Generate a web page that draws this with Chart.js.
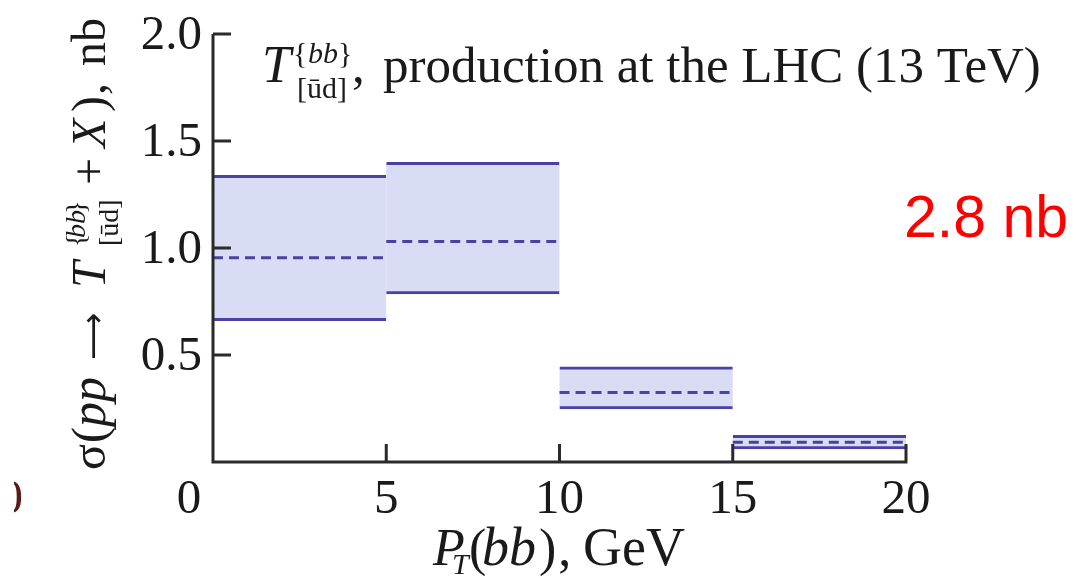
<!DOCTYPE html>
<html>
<head>
<meta charset="utf-8">
<script src="https://cdn.jsdelivr.net/npm/chart.js@4.4.1/dist/chart.umd.min.js"></script>
<style>
  html, body { margin: 0; padding: 0; background: #ffffff; }
  #wrap { width: 1077px; height: 578px; }
</style>
</head>
<body>
<div id="wrap"><canvas id="c" width="1077" height="578"></canvas></div>
<script>
// Cross-section bins in P_T(bb), GeV
const binEdges = [0, 5, 10, 15, 20];
// Central value (dashed) and lower/upper band edges, nb
const central = [0.955, 1.03, 0.325, 0.092];
const lower   = [0.66, 0.785, 0.248, 0.061];
const upper   = [1.34, 1.40, 0.445, 0.125];

// Axis ticks
const xTicks = [0, 5, 10, 15, 20];
const xTickLabels = ['0', '5', '10', '15', '20'];
const yTicks = [0.5, 1.0, 1.5, 2.0];
const yTickLabels = ['0.5', '1.0', '1.5', '2.0'];

const SERIF = "'Liberation Serif', 'Times New Roman', 'DejaVu Serif', serif";
const LINE = '#4a40a6';
const BAND = '#d9dcf5';
const INK = '#1a1a1a';
const AXIS = '#2a2a2a';

// Shaded band per bin as floating bars [lower, upper]
const bandData = upper.map((u, i) => ({ x: (binEdges[i] + binEdges[i + 1]) / 2, y: [lower[i], u] }));
// Dashed central step per bin, broken between bins
const centralData = [];
central.forEach((c, i) => {
  centralData.push({ x: binEdges[i], y: c });
  centralData.push({ x: binEdges[i + 1], y: c });
  centralData.push({ x: binEdges[i + 1], y: null });
});

function put(ctx, txt, x, y, size, italic, align, family) {
  ctx.font = (italic ? 'italic ' : '') + size + 'px ' + (family || SERIF);
  ctx.textAlign = align || 'left';
  ctx.fillText(txt, x, y);
  return ctx.measureText(txt).width;
}

// draw a glyph run scaled so that it spans the given width
function putFit(ctx, txt, x, y, width, family) {
  ctx.font = '100px ' + family;
  const w = ctx.measureText(txt).width || 100;
  const size = Math.max(8, Math.round(100 * width / w));
  return put(ctx, txt, x, y, size, false, 'left', family);
}

const decor = {
  id: 'decor',
  afterDatasetsDraw(chart) {
    const ctx = chart.ctx;
    const xs = chart.scales.x, ys = chart.scales.y;
    const x0 = xs.getPixelForValue(0), x1 = xs.getPixelForValue(20);
    const y0 = ys.getPixelForValue(0), y1 = ys.getPixelForValue(2);
    ctx.save();
    ctx.strokeStyle = AXIS;
    ctx.lineWidth = 3;
    ctx.lineCap = 'butt';
    ctx.beginPath();
    ctx.moveTo(x0, y1); ctx.lineTo(x0, y0 + 1.5);
    ctx.moveTo(x0 - 1.5, y0); ctx.lineTo(x1 + 1.5, y0);
    yTicks.forEach(v => {
      const p = ys.getPixelForValue(v);
      ctx.moveTo(x0, p); ctx.lineTo(x0 + 18, p);
    });
    xTicks.forEach(v => {
      if (v === 0) return;
      const p = xs.getPixelForValue(v);
      ctx.moveTo(p, y0); ctx.lineTo(p, y0 - 18);
    });
    ctx.stroke();
    ctx.restore();
  },
  afterDraw(chart) {
    const ctx = chart.ctx;
    const xs = chart.scales.x, ys = chart.scales.y;
    const x0 = xs.getPixelForValue(0);
    const y0 = ys.getPixelForValue(0);
    ctx.save();
    ctx.fillStyle = INK;
    ctx.textBaseline = 'alphabetic';

    // y tick labels
    yTicks.forEach((v, i) => {
      put(ctx, yTickLabels[i], x0 - 11, ys.getPixelForValue(v) + 15, 49, false, 'right');
    });
    // x tick labels (the origin label sits left of the vertical axis)
    xTicks.forEach((v, i) => {
      const px = xs.getPixelForValue(v) - (v === 0 ? 24 : 0);
      put(ctx, xTickLabels[i], px, y0 + 51, 49, false, 'center');
    });

    // heading
    put(ctx, 'T', 262, 82, 52, true);
    put(ctx, '{', 293, 63, 30, false);
    put(ctx, 'bb', 308, 63, 30, true);
    put(ctx, '}', 338, 63, 30, false);
    put(ctx, '[\u016Bd]', 297, 98, 30, false);
    put(ctx, ',', 352, 82, 51, false);
    put(ctx, 'production at the LHC (13 TeV)', 383, 82, 51, false);

    // x axis title
    put(ctx, 'P', 433, 565, 52, true);
    put(ctx, 'T', 452, 574, 30, true);
    put(ctx, '(', 469, 565, 52, false);
    let cx = 482;
    cx += put(ctx, 'bb', cx, 565, 54, true) + 3;
    cx += put(ctx, ')', cx, 565, 52, false);
    put(ctx, ',', cx + 2, 565, 52, false);
    put(ctx, 'GeV', 583, 565, 54, false);

    // y axis title, rotated
    ctx.save();
    ctx.translate(105, 470);
    ctx.rotate(-Math.PI / 2);
    put(ctx, '\u03C3', 0, 0, 48, false);
    put(ctx, '(', 27, 0, 48, false);
    put(ctx, 'pp', 43, 0, 50, true);
    putFit(ctx, '\u27F6', 110, -1, 47, "'DejaVu Sans', sans-serif");
    put(ctx, 'T', 182, 0, 48, true);
    put(ctx, '{', 223, -20, 28, false);
    put(ctx, 'bb', 232, -20, 28, true);
    put(ctx, '}', 256, -20, 28, false);
    put(ctx, '[\u016Bd]', 224, 13, 28, false);
    put(ctx, '+', 285, 0, 48, false);
    put(ctx, 'X', 322, 0, 48, true);
    put(ctx, ')', 358, 0, 48, false);
    put(ctx, ',', 375, 0, 48, false);
    put(ctx, 'nb', 404, 0, 48, false);
    ctx.restore();

    // partial digit cut by the left edge
    ctx.save();
    ctx.beginPath();
    ctx.rect(14, 470, 20, 60);
    ctx.clip();
    ctx.fillStyle = '#5a1a1a';
    put(ctx, '0', 23, 513, 49, false, 'right');
    ctx.restore();

    // annotation
    ctx.fillStyle = '#ff0000';
    ctx.font = "59px 'Liberation Sans', Arial, sans-serif";
    ctx.textAlign = 'left';
    ctx.fillText('2.8 nb', 904, 237);
    ctx.restore();
  }
};

new Chart(document.getElementById('c'), {
  type: 'bar',
  data: {
    datasets: [
      {
        type: 'line',
        data: centralData,
        borderColor: LINE,
        borderWidth: 3,
        borderDash: [10, 6],
        pointRadius: 0,
        fill: false,
        spanGaps: false,
        tension: 0,
        order: 0
      },
      {
        type: 'bar',
        data: bandData,
        backgroundColor: BAND,
        borderColor: LINE,
        borderWidth: { top: 3, bottom: 3, left: 0, right: 0 },
        borderSkipped: false,
        barPercentage: 1,
        categoryPercentage: 1,
        grouped: false,
        order: 1
      }
    ]
  },
  options: {
    responsive: false,
    animation: false,
    devicePixelRatio: 1,
    layout: { padding: { left: 213, right: 171, top: 34, bottom: 116 } },
    plugins: { legend: { display: false }, tooltip: { enabled: false } },
    scales: {
      x: { type: 'linear', min: 0, max: 20, offset: false, display: false, ticks: { stepSize: 5 } },
      y: { type: 'linear', min: 0, max: 2, display: false }
    }
  },
  plugins: [decor]
});
</script>
</body>
</html>
